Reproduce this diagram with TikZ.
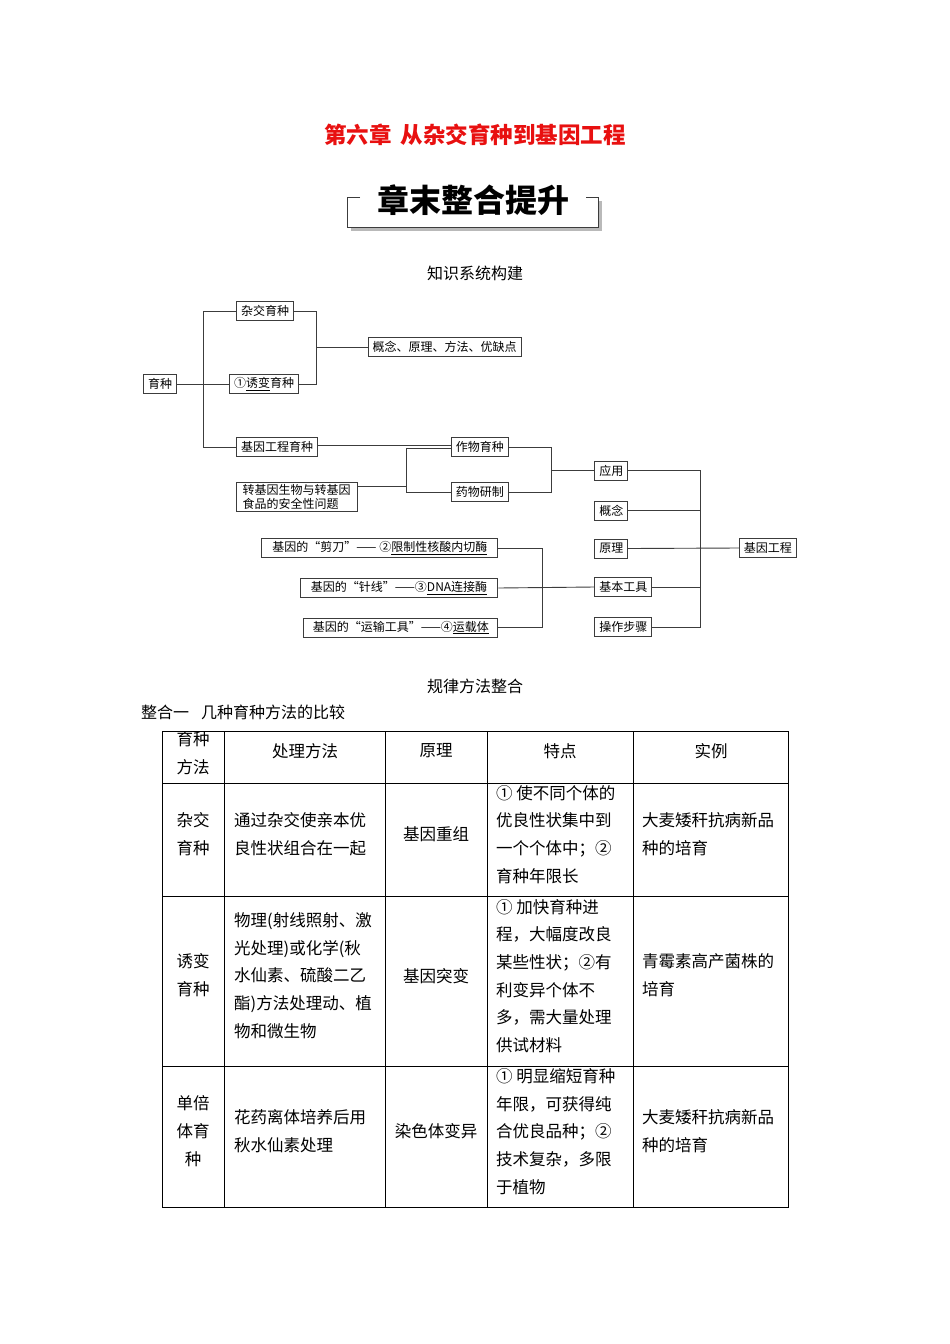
\documentclass[tikz,border=0pt]{standalone}
\usepackage{fontspec}
\setmainfont{Noto Sans CJK SC}
\definecolor{titlered}{RGB}{232,16,16}
\definecolor{linegray}{RGB}{60,60,60}
\newcommand{\myoq}{\makebox[12pt][r]{“}}
\newcommand{\mycq}{\makebox[12pt][l]{”}}
\begin{document}
\begin{tikzpicture}[x=1pt,y=-1pt,
  box/.style={draw=linegray, line width=0.9pt, inner xsep=4.5pt, inner ysep=1.5pt,
    minimum height=19, font=\fontsize{12}{14.5}\selectfont},
  conn/.style={draw=linegray, line width=0.9pt},
  lbl/.style={inner sep=0pt, font=\fontsize{16}{20}\selectfont},
  tt/.style={inner sep=0pt, font=\fontsize{16.5}{27.7}\selectfont, align=left},
  ttc/.style={inner sep=0pt, font=\fontsize{16.5}{27.7}\selectfont, align=center},
  tline/.style={draw=black, line width=1pt}]
\useasboundingbox (0,0) rectangle (950,1344);

% ---------- titles ----------
\node[inner sep=0pt, font=\fontsize{22.5}{22.5}\selectfont\bfseries, text=titlered] (title) at (475,135)
  {第六章\hspace{9pt}从杂交育种到基因工程};
\fill[gray!55] (351,201) rectangle (602,231);
\fill[white] (347,197) rectangle (598,227);
\draw[line width=0.9pt, draw=linegray] (360,197) -- (347,197) -- (347,227) -- (598,227) -- (598,197) -- (586,197);
\node[inner sep=0pt, font=\fontsize{32}{32}\selectfont\bfseries] (sub) at (473,200) {章末整合提升};
\node[lbl] (zs) at (475,273) {知识系统构建};

% ---------- concept map ----------
\node[box] (yz) at (160,384) {育种};
\node[box] (zj) at (265,311) {杂交育种};
\node[box] (by) at (264,384) {①\underline{诱变}育种};
\node[box, anchor=west] (gn) at (367.7,347) {概念、原理、方法、优缺点};
\node[box] (jg) at (277,447) {基因工程育种};
\node[box, anchor=west] (zw) at (451,447) {作物育种};
\node[box, anchor=west] (yw) at (451,492) {药物研制};
\node[box, align=left, anchor=west, minimum width=121] (aq) at (235.7,497) {转基因生物与转基因\\食品的安全性问题};
\node[box, anchor=west] (yy) at (594.3,470.5) {应用};
\node[box, anchor=west] (gn2) at (594.3,510.5) {概念};
\node[box, anchor=west] (yl) at (594.3,548.5) {原理};
\node[box, anchor=west] (jbgj) at (594.3,587) {基本工具};
\node[box, anchor=west] (czbz) at (594.3,627) {操作步骤};
\node[box, anchor=west] (jygc) at (739,548) {基因工程};
\node[box, anchor=east, minimum width=236] (jd) at (498.3,548.3) {基因的\myoq 剪刀\mycq —— ②\underline{限制性核酸内切酶}};
\node[box, anchor=east, minimum width=197.6] (zx) at (498.3,588) {基因的\myoq 针线\mycq ——③\underline{DNA连接酶}};
\node[box, anchor=east, minimum width=194] (ys) at (498.3,627.7) {基因的\myoq 运输工具\mycq ——④\underline{运载体}};

\coordinate (v1) at (203,0);
\coordinate (v2) at (316,0);
\coordinate (v3) at (406,0);
\coordinate (v4) at (551,0);
\coordinate (v5) at (700,0);
\coordinate (v6) at (542,0);

\draw[conn] (yz.east) -- (by.west);
\draw[conn] (zj.west) -- (zj.west -| v1) -- (jg.west -| v1) -- (jg.west);
\draw[conn] (zj.east) -- (zj.east -| v2) -- (by.east -| v2) -- (by.east);
\draw[conn] (gn.west -| v2) -- (gn.west);
\draw[conn] ([yshift=2]jg.east) -- ([yshift=2]zw.west);
\draw[conn] ([yshift=-1.5]zw.west) -- ([yshift=-1.5]zw.west -| v3) -- (yw.west -| v3) -- (yw.west);
\draw[conn] ([yshift=11]aq.east) -- ([yshift=11]aq.east -| v3);
\draw[conn] (zw.east) -- (zw.east -| v4) -- (yw.east -| v4) -- (yw.east);
\draw[conn] (yy.west -| v4) -- (yy.west);
\draw[conn] (yy.east) -- (yy.east -| v5) -- (czbz.east -| v5) -- (czbz.east);
\draw[conn] (gn2.east) -- (gn2.east -| v5);
\draw[conn] (jbgj.east) -- (jbgj.east -| v5);
\draw[conn] (yl.east) -- (jygc.west);
\draw[conn] (jd.east) -- (jd.east -| v6) -- (ys.east -| v6) -- (ys.east);
\draw[conn] (zx.east) -- (jbgj.west);

% ---------- section heads ----------
\node[lbl] (gl) at (475,686) {规律方法整合};
\node[lbl, anchor=west] (zh) at (141,712) {整合一\hspace{12pt}几种育种方法的比较};

% ---------- table ----------
\draw[tline] (162,731) rectangle (788,1207);
\foreach \yy in {783,896,1066} \draw[tline] (162,\yy) -- (788,\yy);
\foreach \xx in {224,385,487,633} \draw[tline] (\xx,731) -- (\xx,1207);

% header
\node[ttc] (h1) at (193,753.5) {育种\\方法};
\node[ttc] (h2) at (305,751) {处理方法};
\node[ttc] (h3) at (436,751) {原理};
\node[ttc] (h4) at (560,751) {特点};
\node[ttc] (h5) at (711,751) {实例};

% row 1
\node[ttc] (a1) at (193,834.5) {杂交\\育种};
\node[tt, anchor=west] (a2) at (234,834.5) {通过杂交使亲本优\\良性状组合在一起};
\node[ttc] (a3) at (436,834) {基因重组};
\node[tt, anchor=west] (a4) at (496,834.5) {① 使不同个体的\\优良性状集中到\\一个个体中；②\\育种年限长};
\node[tt, anchor=west] (a5) at (642,834.5) {大麦矮秆抗病新品\\种的培育};

% row 2
\node[ttc] (b1) at (193,975.5) {诱变\\育种};
\node[tt, anchor=west] (b2) at (234,975.5) {物理(射线照射、激\\光处理)或化学(秋\\水仙素、硫酸二乙\\酯)方法处理动、植\\物和微生物};
\node[ttc] (b3) at (436,976) {基因突变};
\node[tt, anchor=west] (b4) at (496,976) {① 加快育种进\\程，大幅度改良\\某些性状；②有\\利变异个体不\\多，需大量处理\\供试材料};
\node[tt, anchor=west] (b5) at (642,975.5) {青霉素高产菌株的\\培育};

% row 3
\node[ttc] (c1) at (193,1131) {单倍\\体育\\种};
\node[tt, anchor=west] (c2) at (234,1131) {花药离体培养后用\\秋水仙素处理};
\node[ttc] (c3) at (436,1131) {染色体变异};
\node[tt, anchor=west] (c4) at (496,1131.5) {① 明显缩短育种\\年限，可获得纯\\合优良品种；②\\技术复杂，多限\\于植物};
\node[tt, anchor=west] (c5) at (642,1131) {大麦矮秆抗病新品\\种的培育};
\end{tikzpicture}
\end{document}
